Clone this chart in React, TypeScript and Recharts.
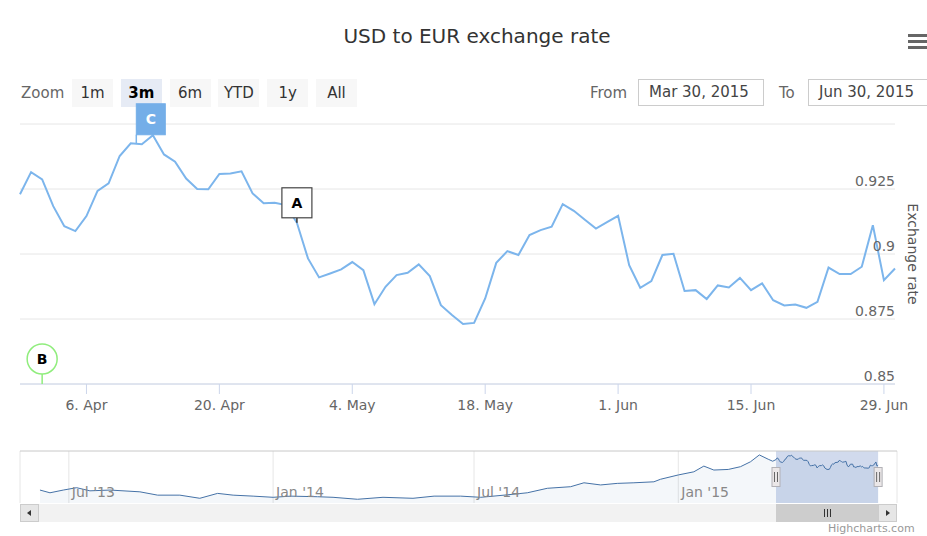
import React from 'react'
import {
  LineChart, Line, XAxis, YAxis, CartesianGrid, ReferenceDot,
  AreaChart, Area, ReferenceArea, ReferenceLine,
} from 'recharts'

const FONT = '"DejaVu Sans", Verdana, sans-serif'
const DAY = 86400000

// trading days shown in the main chart (forex data: no Saturdays)
const tradingDays: string[] = []
for (let t = Date.UTC(2015, 2, 30); t <= Date.UTC(2015, 5, 30); t += DAY) {
  const d = new Date(t)
  if (d.getUTCDay() !== 6) tradingDays.push(d.toISOString().slice(0, 10))
}

const rates = [
  0.923, 0.9315, 0.9287, 0.9184, 0.9107, 0.9088, 0.9146, 0.9243, 0.9272, 0.9377,
  0.9426, 0.9422, 0.9457, 0.9383, 0.9355, 0.929, 0.925, 0.9249, 0.9308, 0.931,
  0.9318, 0.9233, 0.9195, 0.9197, 0.9188, 0.912, 0.8983, 0.891, 0.8925, 0.8941,
  0.8969, 0.8938, 0.8807, 0.8874, 0.8919, 0.8928, 0.896, 0.8915, 0.8803, 0.8765,
  0.8731, 0.8735, 0.8829, 0.8966, 0.9011, 0.8996, 0.9073, 0.9092, 0.9105, 0.9192,
  0.9166, 0.9132, 0.9098, 0.9123, 0.9147, 0.8957, 0.887, 0.8896, 0.8996, 0.9001,
  0.8858, 0.8861, 0.8827, 0.8879, 0.8871, 0.8908, 0.8861, 0.8887, 0.8822, 0.8802,
  0.8806, 0.8793, 0.8816, 0.8948, 0.8923, 0.8923, 0.8951, 0.9111, 0.8899, 0.8944,
]

const tickDates = ['2015-04-06', '2015-04-20', '2015-05-04', '2015-05-18', '2015-06-01', '2015-06-15', '2015-06-29']
const tickLabels = ['6. Apr', '20. Apr', '4. May', '18. May', '1. Jun', '15. Jun', '29. Jun']
const yTicks = [0.85, 0.875, 0.9, 0.925, 0.95]

// pos = ordinal position on the x axis (C sits on a Saturday, between two points)
const flags = [
  { title: 'A', pos: 25, shape: 'squarepin', onSeries: true },
  { title: 'B', pos: 2, shape: 'circlepin', onSeries: false },
  { title: 'C', pos: 10.5, shape: 'flag', onSeries: true },
]

// navigator history before the selected range
const navDates = [
  '2013-06-05', '2013-06-14', '2013-06-26', '2013-07-08', '2013-07-20', '2013-08-07', '2013-09-03',
  '2013-09-19', '2013-10-09', '2013-10-27', '2013-11-12', '2013-11-26', '2013-12-14', '2014-01-01',
  '2014-01-17', '2014-02-10', '2014-02-24', '2014-03-18', '2014-04-10', '2014-05-07', '2014-05-26',
  '2014-06-19', '2014-07-07', '2014-07-28', '2014-08-18', '2014-09-05', '2014-09-26', '2014-10-08',
  '2014-10-23', '2014-11-07', '2014-11-22', '2014-12-10', '2014-12-16', '2015-01-01', '2015-01-15',
  '2015-01-24', '2015-02-02', '2015-02-15', '2015-02-26', '2015-03-07', '2015-03-15', '2015-03-23',
  '2015-03-27',
]
const navValues = [
  0.768, 0.754, 0.768, 0.78, 0.764, 0.768, 0.759,
  0.742, 0.742, 0.726, 0.751, 0.742, 0.737, 0.731,
  0.737, 0.734, 0.731, 0.721, 0.731, 0.726, 0.737,
  0.737, 0.731, 0.742, 0.754, 0.777, 0.785, 0.805,
  0.794, 0.802, 0.805, 0.81, 0.823, 0.845, 0.861,
  0.89, 0.87, 0.873, 0.887, 0.912, 0.947, 0.925,
  0.915,
]
const navTickDates = ['2013-07-01', '2014-01-01', '2014-07-01', '2015-01-01']
const navTickLabels = ["Jul '13", "Jan '14", "Jul '14", "Jan '15"]

const rangeButtons = ['1m', '3m', '6m', 'YTD', '1y', 'All']
const selectedRange = '3m'
const fromDate = 'Mar 30, 2015'
const toDate = 'Jun 30, 2015'

// layout
const W = 927
const H = 536
const PLOT_LEFT = 20
const PLOT_RIGHT = 895
const PLOT_TOP = 124
const PLOT_BOTTOM = 384
const NAV_LEFT = 20
const NAV_RIGHT = 897
const NAV_TOP = 451
const NAV_BOTTOM = 503
const NAV_AXIS_H = 20
const NAV_START = Date.UTC(2013, 4, 18)
const NAV_END = Date.UTC(2015, 6, 17)
const NAV_Y: [number, number] = [0.702, 0.967]

const ts = (s: string) => Date.parse(s + 'T00:00:00Z')

const data = tradingDays.map((d, i) => ({ i, date: d, rate: rates[i] }))
const tickPos = tickDates.map((d) => tradingDays.indexOf(d))

const navData = [
  ...navDates.map((d, i) => ({ t: ts(d), v: navValues[i] })),
  ...tradingDays.map((d, i) => ({ t: ts(d), v: rates[i] })),
]
const navTicks = navTickDates.map(ts)
const maskStart = ts(tradingDays[0])
const maskEnd = ts(tradingDays[tradingDays.length - 1])
const navX = (t: number) => NAV_LEFT + ((t - NAV_START) / (NAV_END - NAV_START)) * (NAV_RIGHT - NAV_LEFT)

const seriesAt = (pos: number) => {
  const a = Math.floor(pos)
  const b = Math.ceil(pos)
  return rates[a] + (rates[b] - rates[a]) * (pos - a)
}

function FlagShape(props: any) {
  const { cx, cy, flag } = props
  const label = (x: number, y: number, fill: string) => (
    <text x={x} y={y} dy="0.36em" textAnchor="middle" fontFamily={FONT} fontSize={14} fontWeight="bold" fill={fill}>
      {flag.title}
    </text>
  )
  if (flag.shape === 'squarepin') {
    return (
      <g>
        <line x1={cx} y1={cy} x2={cx} y2={cy - 5} stroke="#333" strokeWidth={1.5} />
        <rect x={cx - 15} y={cy - 35} width={30} height={30} fill="#fff" stroke="#444" strokeWidth={1.2} />
        {label(cx, cy - 20, '#000')}
      </g>
    )
  }
  if (flag.shape === 'circlepin') {
    return (
      <g>
        <line x1={cx} y1={cy} x2={cx} y2={cy - 10} stroke="#90ed7d" strokeWidth={1.5} />
        <circle cx={cx} cy={cy - 25} r={15} fill="#fff" stroke="#90ed7d" strokeWidth={1.5} />
        {label(cx, cy - 25, '#000')}
      </g>
    )
  }
  return (
    <g>
      <line x1={cx} y1={cy} x2={cx} y2={cy - 9} stroke="#7cb5ec" strokeWidth={1.5} />
      <rect x={cx} y={cy - 40} width={29} height={31} fill="#74aee8" stroke="#74aee8" />
      {label(cx + 14.5, cy - 24.5, '#fff')}
    </g>
  )
}

function YTick(props: any) {
  const { y, payload } = props
  if (payload.value >= 0.95) return <g />
  return (
    <text x={PLOT_RIGHT} y={y - 3} textAnchor="end" fill="#666" fontSize={14} fontFamily={FONT}>
      {String(payload.value)}
    </text>
  )
}

function NavTick(props: any) {
  const { x, payload } = props
  return (
    <text x={x + 3} y={NAV_BOTTOM - 6} fill="#888" fontSize={14} fontFamily={FONT}>
      {navTickLabels[navTicks.indexOf(payload.value)]}
    </text>
  )
}

function Handle(props: any) {
  const { cx, cy } = props
  return (
    <g>
      <rect x={cx - 4} y={cy - 9.5} width={8} height={19} fill="#ebe7e8" stroke="#b2b1b6" />
      <line x1={cx - 1.5} y1={cy - 5} x2={cx - 1.5} y2={cy + 5} stroke="#666" />
      <line x1={cx + 1.5} y1={cy - 5} x2={cx + 1.5} y2={cy + 5} stroke="#666" />
    </g>
  )
}

export default function App() {
  const thumbLeft = navX(maskStart)
  const thumbRight = navX(maskEnd)
  const abs = (extra: React.CSSProperties): React.CSSProperties => ({ position: 'absolute', ...extra })

  return (
    <div style={{ position: 'absolute', left: 0, top: 0, width: W, height: H, background: '#fff', fontFamily: FONT, overflow: 'hidden' }}>
      <div style={abs({ left: 0, top: 22, width: 954, textAlign: 'center', fontSize: 20, lineHeight: '28px', color: '#333' })}>
        USD to EUR exchange rate
      </div>
      {[34, 40, 46].map((t) => (
        <div key={t} style={abs({ left: 908, top: t, width: 19, height: 3, background: '#666' })} />
      ))}

      <div style={abs({ left: 21, top: 83, fontSize: 15, lineHeight: '20px', color: '#666' })}>Zoom</div>
      {rangeButtons.map((b, i) => (
        <div
          key={b}
          style={abs({
            left: 72 + i * 48.8, top: 79, width: 41, height: 28, lineHeight: '28px', textAlign: 'center',
            fontSize: 15, background: b === selectedRange ? '#e6ebf5' : '#f7f7f7',
            color: b === selectedRange ? '#000' : '#333', fontWeight: b === selectedRange ? 'bold' : 'normal',
          })}
        >
          {b}
        </div>
      ))}
      <div style={abs({ left: 590, top: 83, fontSize: 15, lineHeight: '20px', color: '#666' })}>From</div>
      <div style={abs({ left: 638, top: 79, width: 126, height: 27, boxSizing: 'border-box', border: '1px solid #ccc', paddingLeft: 10, fontSize: 15, lineHeight: '25px', color: '#444' })}>
        {fromDate}
      </div>
      <div style={abs({ left: 779, top: 83, fontSize: 15, lineHeight: '20px', color: '#666' })}>To</div>
      <div style={abs({ left: 808, top: 79, width: 130, height: 27, boxSizing: 'border-box', border: '1px solid #ccc', paddingLeft: 10, fontSize: 15, lineHeight: '25px', color: '#444' })}>
        {toDate}
      </div>

      {/* scrollbar */}
      <div style={abs({ left: NAV_LEFT, top: 504, width: NAV_RIGHT - NAV_LEFT, height: 18, background: '#f2f2f2' })} />
      <div style={abs({ left: thumbLeft, top: 504, width: thumbRight - thumbLeft, height: 18, background: '#cdcdcd' })} />
      {[-3, 0, 3].map((dx) => (
        <div key={dx} style={abs({ left: (thumbLeft + thumbRight) / 2 + dx - 0.5, top: 509, width: 1, height: 8, background: '#333' })} />
      ))}
      <div style={abs({ left: NAV_LEFT, top: 504, width: 19, height: 18, boxSizing: 'border-box', background: '#e6e6e6', border: '1px solid #ccc' })}>
        <div style={{ position: 'absolute', left: 6, top: 5, width: 0, height: 0, borderTop: '3px solid transparent', borderBottom: '3px solid transparent', borderRight: '4px solid #333' }} />
      </div>
      <div style={abs({ left: NAV_RIGHT - 19, top: 504, width: 19, height: 18, boxSizing: 'border-box', background: '#e6e6e6', border: '1px solid #ccc' })}>
        <div style={{ position: 'absolute', left: 7, top: 5, width: 0, height: 0, borderTop: '3px solid transparent', borderBottom: '3px solid transparent', borderLeft: '4px solid #333' }} />
      </div>

      <div style={abs({ left: 828, top: 522, fontSize: 11, lineHeight: '13px', color: '#999', whiteSpace: 'nowrap' })}>Highcharts.com</div>

      {/* navigator */}
      <div style={abs({ left: 0, top: 0 })}>
        <AreaChart
          width={W}
          height={H}
          data={navData}
          margin={{ top: NAV_TOP, left: NAV_LEFT, right: W - NAV_RIGHT, bottom: H - NAV_BOTTOM - NAV_AXIS_H }}
        >
          <CartesianGrid horizontal={false} stroke="#e6e6e6" />
          <XAxis
            dataKey="t"
            type="number"
            domain={[NAV_START, NAV_END]}
            ticks={navTicks}
            tick={NavTick}
            height={NAV_AXIS_H}
            tickLine={false}
            axisLine={false}
            interval={0}
            allowDataOverflow
          />
          <YAxis hide domain={NAV_Y} allowDataOverflow />
          <ReferenceArea x1={maskStart} x2={maskEnd} fill="#6685c2" fillOpacity={0.3} stroke="none" ifOverflow="visible" />
          <Area
            type="linear"
            dataKey="v"
            stroke="#4572a7"
            strokeWidth={1}
            fill="#4572a7"
            fillOpacity={0.06}
            isAnimationActive={false}
          />
          <ReferenceLine y={NAV_Y[1]} stroke="#c8c8c8" ifOverflow="visible" />
          <ReferenceDot x={maskStart} y={(NAV_Y[0] + NAV_Y[1]) / 2} r={0} shape={Handle} ifOverflow="visible" />
          <ReferenceDot x={maskEnd} y={(NAV_Y[0] + NAV_Y[1]) / 2} r={0} shape={Handle} ifOverflow="visible" />
        </AreaChart>
      </div>

      {/* main chart */}
      <div style={abs({ left: 0, top: 0 })}>
        <LineChart
          width={W}
          height={H}
          data={data}
          margin={{ top: PLOT_TOP, left: PLOT_LEFT, right: 0, bottom: H - PLOT_BOTTOM - 30 }}
        >
          <CartesianGrid vertical={false} stroke="#e6e6e6" />
          <XAxis
            dataKey="i"
            type="number"
            domain={[0, tradingDays.length - 1]}
            ticks={tickPos}
            tickFormatter={(v: number) => tickLabels[tickPos.indexOf(v)]}
            tick={{ fill: '#666', fontSize: 14, fontFamily: FONT }}
            tickLine={{ stroke: '#ccd6eb' }}
            axisLine={{ stroke: '#ccd6eb' }}
            tickSize={10}
            tickMargin={6}
            height={30}
          />
          <YAxis
            orientation="right"
            width={W - PLOT_RIGHT}
            domain={[0.85, 0.95]}
            ticks={yTicks}
            tick={YTick}
            tickLine={false}
            axisLine={false}
            label={{ value: 'Exchange rate', angle: 90, position: 'center', dx: 2, fill: '#555', fontSize: 14, fontFamily: FONT }}
          />
          <Line type="linear" dataKey="rate" stroke="#7cb5ec" strokeWidth={2} dot={false} isAnimationActive={false} />
          {flags.map((f) => (
            <ReferenceDot
              key={f.title}
              x={f.pos}
              y={f.onSeries ? seriesAt(f.pos) : 0.85}
              r={0}
              ifOverflow="visible"
              shape={(p: any) => <FlagShape {...p} flag={f} />}
            />
          ))}
        </LineChart>
      </div>
    </div>
  )
}
